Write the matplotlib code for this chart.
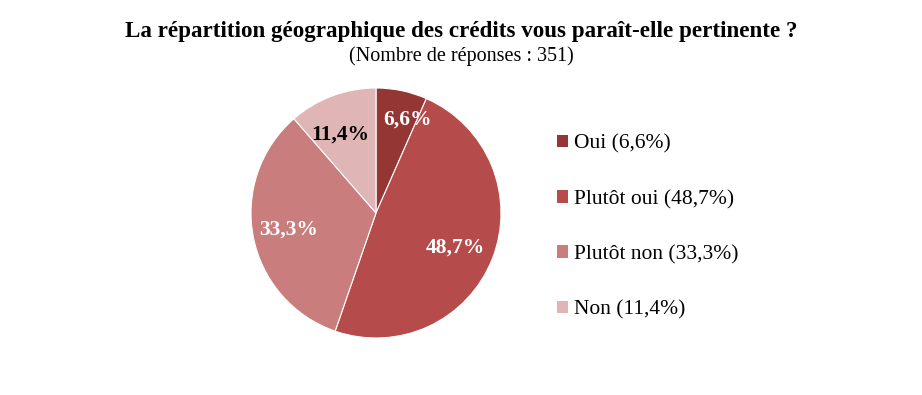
import matplotlib
matplotlib.use("Agg")
import matplotlib.pyplot as plt
import numpy as np

categories = ["Oui", "Plutôt oui", "Plutôt non", "Non"]
values = [6.6, 48.7, 33.3, 11.4]
colors = ["#943634", "#B54B4A", "#C97D7C", "#DFB5B5"]
label_colors = ["white", "white", "white", "black"]
label_radii = [0.785, 0.69, 0.71, 0.69]
label_angle_shift = [-6.8, -1.9, 0.0, 4.3]
title = "La répartition géographique des crédits vous paraît-elle pertinente ?"
subtitle = "(Nombre de réponses : 351)"

def fmt(v):
    return f"{v:.1f}".replace(".", ",") + "%"

plt.rcParams['font.family'] = ['Liberation Serif', 'DejaVu Serif']

fig = plt.figure(figsize=(9.22, 3.95), dpi=100)
W, H = 922, 395
cx, cy, R = 376, 182, 125
ax = fig.add_axes([(cx - R) / W, (cy - R) / H, 2 * R / W, 2 * R / H])
wedges, _ = ax.pie(values, colors=colors, startangle=90, counterclock=False,
                   radius=1, wedgeprops=dict(edgecolor="white", linewidth=0.8))
ax.set_xlim(-1, 1)
ax.set_ylim(-1, 1)
ax.set_aspect("equal")

for w, v, c, r, s in zip(wedges, values, label_colors, label_radii, label_angle_shift):
    ang = np.deg2rad((w.theta1 + w.theta2) / 2 + s)
    ax.text(r * np.cos(ang), r * np.sin(ang), fmt(v), ha="center", va="center",
            color=c, fontsize=15.5, fontweight="bold")

fig.text(0.5, 1 - 32 / H, title, ha="center", va="center", fontsize=16.6, fontweight="bold")
fig.text(0.5, 1 - 56 / H, subtitle, ha="center", va="center", fontsize=14.5)

handles = [plt.Rectangle((0, 0), 1, 1, facecolor=c) for c in colors]
labels = [f"{cat} ({fmt(v)})" for cat, v in zip(categories, values)]
fig.legend(handles, labels, loc="center left", bbox_to_anchor=(546 / W, 1 - 227 / H),
           frameon=False, fontsize=15.5, handlelength=0.5, handleheight=0.5,
           handletextpad=0.3, labelspacing=1.67, borderpad=0)

fig.savefig("out.png", dpi=100)
